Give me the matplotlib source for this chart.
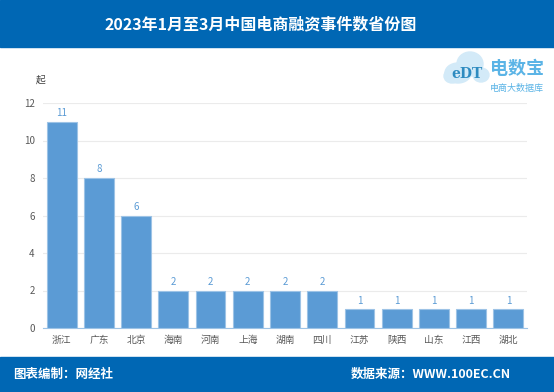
import matplotlib.pyplot as plt
from matplotlib.patches import Rectangle, Ellipse

plt.rcParams['font.family'] = ['Noto Sans CJK SC', 'DejaVu Sans']

provinces = ['浙江', '广东', '北京', '海南', '河南', '上海', '湖南', '四川',
             '江苏', '陕西', '山东', '江西', '湖北']
counts = [11, 8, 6, 2, 2, 2, 2, 2, 1, 1, 1, 1, 1]
y_ticks = [0, 2, 4, 6, 8, 10, 12]

W, H = 554, 392
fig = plt.figure(figsize=(W / 100, H / 100), dpi=100)
blue = '#0067B4'
bar_col = '#5B9BD5'

# header / footer bands
fig.patches.append(Rectangle((0, 1 - 47 / H), 1, 47 / H, transform=fig.transFigure,
                             color=blue, zorder=0))
fig.patches.append(Rectangle((0, 0), 1, 35 / H, transform=fig.transFigure,
                             color=blue, zorder=0))
fig.text(261 / W, 1 - 24 / H, '2023年1月至3月中国电商融资事件数省份图', color='white',
         fontsize=11.5, fontweight='bold', ha='center', va='center')
fig.text(13 / W, 18 / H, '图表编制：网经社', color='white', fontsize=9,
         fontweight='bold', ha='left', va='center')
fig.text(511 / W, 18 / H, '数据来源：WWW.100EC.CN', color='white', fontsize=9,
         fontweight='bold', ha='right', va='center')

# plot area
ax = fig.add_axes([43 / W, 1 - 328 / H, 484 / W, 225 / H])
x = range(len(provinces))
ax.bar(x, counts, width=0.8, color=bar_col, edgecolor='#9DC3E6', linewidth=0.8, zorder=3)
for i, v in enumerate(counts):
    ax.text(i, v + 0.2, str(v), color=bar_col, fontsize=7, ha='center', va='bottom')
ax.set_xlim(-0.5, len(provinces) - 0.5)
ax.set_ylim(0, 12)
ax.set_yticks(y_ticks)
ax.set_xticks(list(x))
ax.set_xticklabels(provinces)
ax.grid(axis='y', color='#EBEBEB', linewidth=0.8, zorder=0)
for s in ['top', 'right', 'left']:
    ax.spines[s].set_visible(False)
ax.spines['bottom'].set_color('#9DC3E6')
ax.tick_params(axis='both', labelsize=7, colors='#595959', length=0)
ax.tick_params(axis='y', pad=6)
ax.tick_params(axis='x', pad=5)
fig.text(41 / W, 1 - 80 / H, '起', color='#404040', fontsize=7, ha='center', va='center')

# logo (rough)
logo = '#5BB4E6'
for cx, cy, w, h in [(458, 73, 26, 20), (470, 64, 26, 24), (452, 76, 16, 14), (481, 75, 16, 14)]:
    fig.patches.append(Ellipse((cx / W, 1 - cy / H), w / W, h / H, transform=fig.transFigure,
                               color='#D3EAF8', zorder=1))
fig.text(467 / W, 1 - 74 / H, 'eDT', color='#2E8BC0', fontsize=10, fontweight='bold',
         ha='center', va='center', family='DejaVu Serif')
fig.text(490 / W, 1 - 69 / H, '电数宝', color=logo, fontsize=13, fontweight='bold',
         ha='left', va='center')
fig.text(490 / W, 1 - 88 / H, '电商大数据库', color=logo, fontsize=6.5,
         ha='left', va='center')

fig.savefig('out.png', dpi=100)
